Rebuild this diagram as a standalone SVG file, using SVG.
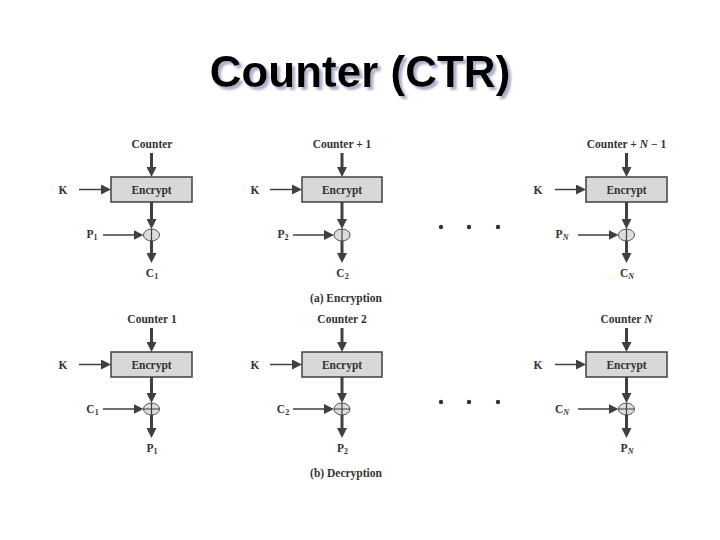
<svg xmlns="http://www.w3.org/2000/svg" width="720" height="540" viewBox="0 0 720 540">
<style>
.title{font-family:"Liberation Sans",Arial,sans-serif;font-weight:bold;font-size:44px;fill:#000}
.lbl{font-family:"Liberation Serif","Times New Roman",serif;font-weight:bold;font-size:11.5px;fill:#333}
.sub{font-size:8px}
.box{fill:#d8d8d8;stroke:#404040;stroke-width:1.5}
.box-t{font-family:"Liberation Serif","Times New Roman",serif;font-weight:bold;font-size:11.5px;fill:#333}
.thick{stroke:#404040;stroke-width:3;fill:none}
.thin{stroke:#404040;stroke-width:1.5;fill:none}
.xor{fill:#dcdcdc;stroke:#505050;stroke-width:1}
.cross{stroke:#404040;stroke-width:1.2;fill:none}
.dot{fill:#333}
</style>
<defs>
<filter id="shadow" x="-5%" y="-20%" width="115%" height="150%">
<feDropShadow dx="3" dy="3" stdDeviation="1" flood-color="#aab0c8" flood-opacity="1"/>
</filter>
<marker id="ah" viewBox="0 0 10 10" refX="6" refY="5" markerUnits="userSpaceOnUse" markerWidth="10" markerHeight="10" orient="auto">
<path d="M0,0 L10,5 L0,10 z" fill="#404040"/>
</marker>
</defs>
<rect width="720" height="540" fill="#fff"/>
<text class="title" x="360" y="87" text-anchor="middle" filter="url(#shadow)">Counter (CTR)</text>

<!-- Encryption row -->
<g id="enc1">
<text class="lbl" x="152" y="148" text-anchor="middle">Counter</text>
<rect class="box" x="111" y="177" width="81" height="25"/>
<text class="box-t" x="151.5" y="193.5" text-anchor="middle">Encrypt</text>
<text class="lbl" x="63" y="193.5" text-anchor="middle">K</text>
<ellipse class="xor" cx="151.5" cy="235" rx="8" ry="6"/>
<path class="cross" d="M151.5,229 V241"/>
<text class="lbl" x="92" y="237.5" text-anchor="middle">P<tspan class="sub" dy="2">1</tspan></text>
<text class="lbl" x="152" y="276.5" text-anchor="middle">C<tspan class="sub" dy="2">1</tspan></text>
</g>
<g id="enc2">
<text class="lbl" x="342" y="148" text-anchor="middle">Counter + 1</text>
<rect class="box" x="302" y="177" width="80" height="25"/>
<text class="box-t" x="342" y="193.5" text-anchor="middle">Encrypt</text>
<text class="lbl" x="255" y="193.5" text-anchor="middle">K</text>
<ellipse class="xor" cx="342" cy="235" rx="8" ry="6"/>
<path class="cross" d="M342,229 V241"/>
<text class="lbl" x="283" y="237.5" text-anchor="middle">P<tspan class="sub" dy="2">2</tspan></text>
<text class="lbl" x="342.5" y="276.5" text-anchor="middle">C<tspan class="sub" dy="2">2</tspan></text>
<text class="lbl" x="346" y="301.5" text-anchor="middle">(a) Encryption</text>
</g>
<g id="encN">
<text class="lbl" x="626.5" y="148" text-anchor="middle">Counter + <tspan font-style="italic">N</tspan> − 1</text>
<rect class="box" x="586" y="177" width="81" height="25"/>
<text class="box-t" x="626.5" y="193.5" text-anchor="middle">Encrypt</text>
<text class="lbl" x="538" y="193.5" text-anchor="middle">K</text>
<ellipse class="xor" cx="626.5" cy="235" rx="8" ry="6"/>
<path class="cross" d="M626.5,229 V241"/>
<text class="lbl" x="562" y="237.5" text-anchor="middle">P<tspan class="sub" dy="2" font-style="italic">N</tspan></text>
<text class="lbl" x="627" y="276.5" text-anchor="middle">C<tspan class="sub" dy="2" font-style="italic">N</tspan></text>
</g>
<g id="enc-dots">
<circle class="dot" cx="441" cy="227" r="2.2"/>
<circle class="dot" cx="469" cy="227" r="2.2"/>
<circle class="dot" cx="498" cy="227" r="2.2"/>
</g>

<!-- Decryption row -->
<g id="dec1">
<text class="lbl" x="152" y="323" text-anchor="middle">Counter 1</text>
<rect class="box" x="111" y="352" width="81" height="25"/>
<text class="box-t" x="151.5" y="368.5" text-anchor="middle">Encrypt</text>
<text class="lbl" x="63" y="368.5" text-anchor="middle">K</text>
<ellipse class="xor" cx="151.5" cy="409" rx="8" ry="6"/>
<path class="cross" d="M143.5,409 H159.5 M151.5,403 V415"/>
<text class="lbl" x="92.5" y="412.5" text-anchor="middle">C<tspan class="sub" dy="2">1</tspan></text>
<text class="lbl" x="152" y="451.5" text-anchor="middle">P<tspan class="sub" dy="2">1</tspan></text>
</g>
<g id="dec2">
<text class="lbl" x="342" y="323" text-anchor="middle">Counter 2</text>
<rect class="box" x="302" y="352" width="80" height="25"/>
<text class="box-t" x="342" y="368.5" text-anchor="middle">Encrypt</text>
<text class="lbl" x="255" y="368.5" text-anchor="middle">K</text>
<ellipse class="xor" cx="342" cy="409" rx="8" ry="6"/>
<path class="cross" d="M334,409 H350 M342,403 V415"/>
<text class="lbl" x="283" y="412.5" text-anchor="middle">C<tspan class="sub" dy="2">2</tspan></text>
<text class="lbl" x="342.5" y="451.5" text-anchor="middle">P<tspan class="sub" dy="2">2</tspan></text>
<text class="lbl" x="346" y="476.5" text-anchor="middle">(b) Decryption</text>
</g>
<g id="decN">
<text class="lbl" x="626.5" y="323" text-anchor="middle">Counter <tspan font-style="italic">N</tspan></text>
<rect class="box" x="586" y="352" width="81" height="25"/>
<text class="box-t" x="626.5" y="368.5" text-anchor="middle">Encrypt</text>
<text class="lbl" x="538" y="368.5" text-anchor="middle">K</text>
<ellipse class="xor" cx="626.5" cy="409" rx="8" ry="6"/>
<path class="cross" d="M618.5,409 H634.5 M626.5,403 V415"/>
<text class="lbl" x="562" y="412.5" text-anchor="middle">C<tspan class="sub" dy="2" font-style="italic">N</tspan></text>
<text class="lbl" x="627" y="451.5" text-anchor="middle">P<tspan class="sub" dy="2" font-style="italic">N</tspan></text>
</g>
<g id="dec-dots">
<circle class="dot" cx="441" cy="402" r="2.2"/>
<circle class="dot" cx="469" cy="402" r="2.2"/>
<circle class="dot" cx="498" cy="402" r="2.2"/>
</g>

<g id="connectors">
<!-- enc col 1 -->
<path class="thick" d="M151.5,153 V173" marker-end="url(#ah)"/>
<path class="thin" d="M79,189.5 H107" marker-end="url(#ah)"/>
<path class="thick" d="M151.5,202 V225" marker-end="url(#ah)"/>
<path class="thin" d="M103,235 H139.5" marker-end="url(#ah)"/>
<path class="thick" d="M151.5,241 V259" marker-end="url(#ah)"/>
<!-- enc col 2 -->
<path class="thick" d="M342,153 V173" marker-end="url(#ah)"/>
<path class="thin" d="M270,189.5 H298" marker-end="url(#ah)"/>
<path class="thick" d="M342,202 V225" marker-end="url(#ah)"/>
<path class="thin" d="M293,235 H330" marker-end="url(#ah)"/>
<path class="thick" d="M342,241 V259" marker-end="url(#ah)"/>
<!-- enc col N -->
<path class="thick" d="M626.5,153 V173" marker-end="url(#ah)"/>
<path class="thin" d="M555,189.5 H582" marker-end="url(#ah)"/>
<path class="thick" d="M626.5,202 V225" marker-end="url(#ah)"/>
<path class="thin" d="M578,235 H614.5" marker-end="url(#ah)"/>
<path class="thick" d="M626.5,241 V259" marker-end="url(#ah)"/>
<!-- dec col 1 -->
<path class="thick" d="M151.5,328 V348" marker-end="url(#ah)"/>
<path class="thin" d="M79,364.5 H107" marker-end="url(#ah)"/>
<path class="thick" d="M151.5,377 V399" marker-end="url(#ah)"/>
<path class="thin" d="M103,409 H139.5" marker-end="url(#ah)"/>
<path class="thick" d="M151.5,415 V434" marker-end="url(#ah)"/>
<!-- dec col 2 -->
<path class="thick" d="M342,328 V348" marker-end="url(#ah)"/>
<path class="thin" d="M270,364.5 H298" marker-end="url(#ah)"/>
<path class="thick" d="M342,377 V399" marker-end="url(#ah)"/>
<path class="thin" d="M293,409 H330" marker-end="url(#ah)"/>
<path class="thick" d="M342,415 V434" marker-end="url(#ah)"/>
<!-- dec col N -->
<path class="thick" d="M626.5,328 V348" marker-end="url(#ah)"/>
<path class="thin" d="M555,364.5 H582" marker-end="url(#ah)"/>
<path class="thick" d="M626.5,377 V399" marker-end="url(#ah)"/>
<path class="thin" d="M578,409 H614.5" marker-end="url(#ah)"/>
<path class="thick" d="M626.5,415 V434" marker-end="url(#ah)"/>
</g>
</svg>
